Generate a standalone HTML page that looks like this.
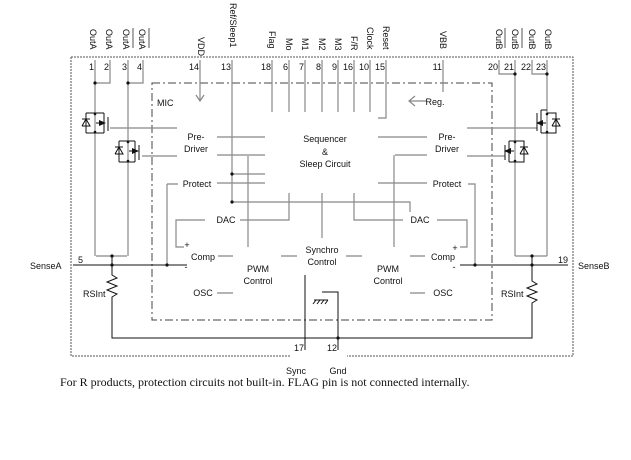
<!DOCTYPE html>
<html><head><meta charset="utf-8"><style>
html,body{margin:0;padding:0;background:#fff;}
svg{display:block;}
text{font-family:"Liberation Sans",Arial,sans-serif;font-size:9px;fill:#111;}
.c{text-anchor:middle;}
.r{text-anchor:end;}
</style></head><body>
<svg width="631" height="460" viewBox="0 0 631 460" xmlns="http://www.w3.org/2000/svg">
<g fill="none" stroke="#333" stroke-width="1">
<path d="M71,57 H573 V356 H347 M290,356 H71 V57" stroke-dasharray="2,1" stroke="#555"/>
<path d="M152,83 H492 V320 H152 Z" stroke-dasharray="8,3,2,3" stroke="#444"/>
</g>
<g fill="none" stroke="#888" stroke-width="1.2">
<path d="M95,60 V256 M110,60 V83 H95 M128,60 V256 M143,60 V83 H128"/>
<path d="M96,256 H127"/>
<path d="M232,60 V202"/>
<path d="M200,60 V100 M196,95 L200,101 L204,95"/>
<path d="M272,60 V112 M289,60 V112 M305,60 V112 M322,60 V112 M338,60 V112 M354,60 V112 M370,60 V112 M386,60 V118 H378"/>
<path d="M443,60 V92 M410,101 H427 M415,96 L409,101 L415,106"/>
<path d="M499,60 V74 H515 M515,60 V256 M532,60 V74 H547 M547,60 V256 M515,256 H547"/>
<path d="M110,128 H177 M142,156 H177"/>
<path d="M217,137 H265 M217,155 H265 M248,156 V247 M232,174 H265 M217,183 H265"/>
<path d="M167,184 V265 M167,184 H178"/>
<path d="M232,202 H410 V212"/>
<path d="M240,220 H289 V193 M322,193 V238 M354,193 V220 H403"/>
<path d="M205,220 H176 V247 H184"/>
<path d="M218,256 H233 M281,256 H297 M346,256 H362 M410,256 H425"/>
<path d="M217,293 H233 M410,293 H425"/>
<path d="M378,137 H427 M395,155 H427 M394,155 V247 M378,183 H427"/>
<path d="M467,128 H537 M467,156 H505"/>
<path d="M468,184 H475 V265"/>
<path d="M437,220 H467 V247 H460"/>
</g>
<g fill="none" stroke="#111" stroke-width="1">
<path d="M73,265 H187 M460,265 H568"/>
<path d="M112,256 V275 l5,3 l-10,4 l10,4 l-10,4 l10,4 l-5,3 V338 H532 V303 l5,-3 l-10,-4 l10,-4 l-10,-4 l10,-4 l-5,-3 V256"/>
<path d="M305,275 V350 M338,338 V350 M322,292 H338 V338"/>
<path d="M314,300 H328 M316,300 l-3,4 M320,300 l-3,4 M324,300 l-3,4 M328,300 l-3,4"/>
<path d="M108,117 V131 M104,113 V133 M95,113 H104 M95,133 H104 M96,123 H104"/>
<path d="M86,113 H95 M86,113 V133 M86,133 H95 M82,119 H90 M82,126 H90 L86,119 L82,126"/>
<path d="M139,145 V160 M135,141 V162 M128,141 H135 M128,162 H135 M129,151 H135"/>
<path d="M119,141 H128 M119,141 V162 M119,162 H128 M115,147 H123 M115,154 H123 L119,147 L115,154"/>
<path d="M537,113 V131 M541,110 V133 M547,110 H541 M547,133 H541 M546,123 H541"/>
<path d="M547,113 H556 V133 H547 M552,119 H560 M552,126 H560 L556,119 L552,126"/>
<path d="M505,145 V160 M509,141 V162 M515,141 H509 M515,162 H509 M514,151 H509"/>
<path d="M515,141 H524 V162 H515 M520,147 H528 M520,154 H528 L524,147 L520,154"/>
<path d="M133,28 V48 M149,28 V48 M505,28 V48 M522,28 V48" stroke="#555"/>
</g>
<g fill="#111">
<circle cx="95" cy="83" r="1.6"/><circle cx="128" cy="83" r="1.6"/>
<circle cx="515" cy="74" r="1.6"/><circle cx="547" cy="74" r="1.6"/>
<circle cx="232" cy="174" r="1.6"/><circle cx="232" cy="202" r="1.6"/>
<circle cx="112" cy="256" r="1.6"/><circle cx="112" cy="265" r="1.6"/><circle cx="167" cy="265" r="1.6"/>
<circle cx="532" cy="256" r="1.6"/><circle cx="532" cy="265" r="1.6"/><circle cx="475" cy="265" r="1.6"/>
<circle cx="338" cy="338" r="1.6"/>
<path d="M99,120 L106,123 L99,126Z M132,148 L139,151 L132,154Z M543,120 L536,123 L543,126Z M511,148 L504,151 L511,154Z"/>
<circle cx="95" cy="114" r="1.3"/><circle cx="95" cy="132" r="1.3"/><circle cx="128" cy="142" r="1.3"/><circle cx="128" cy="161" r="1.3"/>
<circle cx="547" cy="114" r="1.3"/><circle cx="547" cy="132" r="1.3"/><circle cx="515" cy="142" r="1.3"/><circle cx="515" cy="161" r="1.3"/>
</g>
<g>
<text transform="translate(90,29) rotate(90)">OutA</text>
<text transform="translate(106,29) rotate(90)">OutA</text>
<text transform="translate(123,29) rotate(90)">OutA</text>
<text transform="translate(139,29) rotate(90)">OutA</text>
<text transform="translate(198,37) rotate(90)">VDD</text>
<text transform="translate(230,3) rotate(90)">Ref/Sleep1</text>
<text transform="translate(269,31) rotate(90)">Flag</text>
<text transform="translate(286,38) rotate(90)">Mo</text>
<text transform="translate(302,38) rotate(90)">M1</text>
<text transform="translate(319,38) rotate(90)">M2</text>
<text transform="translate(335,38) rotate(90)">M3</text>
<text transform="translate(351,36) rotate(90)">F/R</text>
<text transform="translate(367,27) rotate(90)">Clock</text>
<text transform="translate(383,26) rotate(90)">Reset</text>
<text transform="translate(440,31) rotate(90)">VBB</text>
<text transform="translate(496,29) rotate(90)">OutB</text>
<text transform="translate(512,29) rotate(90)">OutB</text>
<text transform="translate(529,29) rotate(90)">OutB</text>
<text transform="translate(545,29) rotate(90)">OutB</text>
</g>
<g>
<text x="94" y="70" class="r">1</text><text x="109" y="70" class="r">2</text>
<text x="127" y="70" class="r">3</text><text x="142" y="70" class="r">4</text>
<text x="199" y="70" class="r">14</text><text x="231" y="70" class="r">13</text>
<text x="271" y="70" class="r">18</text><text x="288" y="70" class="r">6</text>
<text x="304" y="70" class="r">7</text><text x="321" y="70" class="r">8</text>
<text x="337" y="70" class="r">9</text><text x="353" y="70" class="r">16</text>
<text x="369" y="70" class="r">10</text><text x="385" y="70" class="r">15</text>
<text x="442" y="70" class="r">11</text>
<text x="498" y="70" class="r">20</text><text x="514" y="70" class="r">21</text>
<text x="531" y="70" class="r">22</text><text x="546" y="70" class="r">23</text>
<text x="304" y="351" class="r">17</text><text x="337" y="351" class="r">12</text>
</g>
<text x="157" y="106">MIC</text>
<text x="435" y="105" class="c">Reg.</text>
<text x="196" y="140" class="c">Pre-</text><text x="196" y="152" class="c">Driver</text>
<text x="447" y="140" class="c">Pre-</text><text x="447" y="152" class="c">Driver</text>
<text x="325" y="142" class="c">Sequencer</text>
<text x="325" y="155" class="c">&amp;</text>
<text x="325" y="167" class="c">Sleep Circuit</text>
<text x="197" y="187" class="c">Protect</text>
<text x="447" y="187" class="c">Protect</text>
<text x="226" y="223" class="c">DAC</text>
<text x="420" y="223" class="c">DAC</text>
<text x="187" y="248" class="c">+</text><text x="186" y="270" class="c">-</text>
<text x="203" y="260" class="c">Comp</text>
<text x="455" y="251" class="c">+</text><text x="454" y="270" class="c">-</text>
<text x="443" y="260" class="c">Comp</text>
<text x="322" y="253" class="c">Synchro</text><text x="322" y="265" class="c">Control</text>
<text x="258" y="272" class="c">PWM</text><text x="258" y="284" class="c">Control</text>
<text x="388" y="272" class="c">PWM</text><text x="388" y="284" class="c">Control</text>
<text x="203" y="296" class="c">OSC</text>
<text x="443" y="296" class="c">OSC</text>
<text x="30" y="269">SenseA</text><text x="78" y="263">5</text>
<text x="578" y="269">SenseB</text><text x="558" y="263">19</text>
<text x="83" y="297">RSInt</text>
<text x="501" y="297">RSInt</text>
<text x="296" y="374" class="c">Sync</text><text x="338" y="374" class="c">Gnd</text>
<text x="60" y="386" style="font-family:'Liberation Serif',serif;font-size:12px">For R products, protection circuits not built-in. FLAG pin is not connected internally.</text>
</svg>
</body></html>
